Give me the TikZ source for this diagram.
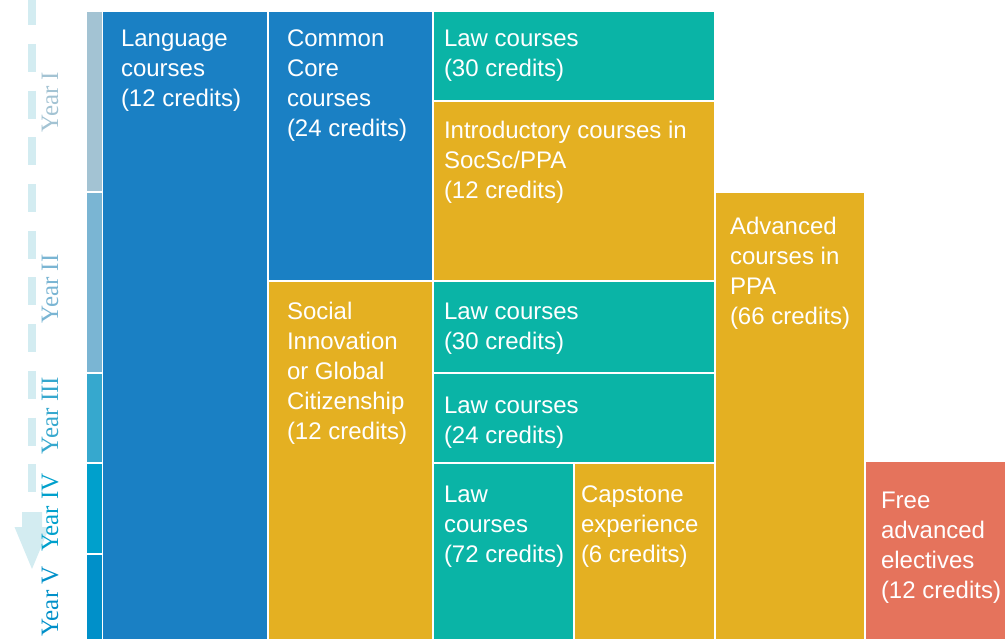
\documentclass[tikz,border=0pt]{standalone}
\usepackage{fontspec}
\setmainfont{Liberation Sans}
\newfontfamily\yearfont{Liberation Serif}
\usetikzlibrary{calc}
\definecolor{cblue}{HTML}{1A80C4}
\definecolor{cteal}{HTML}{0AB4A6}
\definecolor{cgold}{HTML}{E4B022}
\definecolor{ccoral}{HTML}{E5735C}
\definecolor{yI}{HTML}{A3C3D3}
\definecolor{yII}{HTML}{7AB5D3}
\definecolor{yIII}{HTML}{36A8CE}
\definecolor{yIV}{HTML}{00A0CC}
\definecolor{yV}{HTML}{0090C9}
\definecolor{cdash}{HTML}{D3ECF1}
\newcommand{\boxlines}[1]{\begin{tabular}[t]{@{}l@{}}#1\end{tabular}}
\begin{document}
\begin{tikzpicture}[x=1pt,y=-1pt,
  blk/.style n args={2}{anchor=north west, inner sep=0pt, outer sep=0pt, draw=none, minimum width=#1, minimum height=#2},
  lbl/.style={anchor=base west, inner sep=0pt, outer sep=0pt, text=white, font=\fontsize{24pt}{30pt}\selectfont},
  yearlbl/.style={anchor=base, rotate=90, inner sep=0pt, font=\yearfont\fontsize{25pt}{25pt}\selectfont}]
\useasboundingbox (0,0) rectangle (1005,639);
% timeline arrow
\draw[cdash, line width=8pt, dash pattern=on 28pt off 18.7pt, dash phase=2.7pt] (32,0) -- (32,492.3);
\fill[cdash] (22,512) -- (42,512) -- (42,527) -- (49.5,527) -- (32,569) -- (14.5,527) -- (22,527) -- cycle;
% year bars
\node[blk={15pt}{179pt}, fill=yI] (barI) at (87,12) {};
\node[blk={15pt}{179pt}, fill=yII] (barII) at (87,193) {};
\node[blk={15pt}{88pt}, fill=yIII] (barIII) at (87,374) {};
\node[blk={15pt}{89pt}, fill=yIV] (barIV) at (87,464) {};
\node[blk={15pt}{84pt}, fill=yV] (barV) at (87,555) {};
% year labels
\node[yearlbl, text=yI] (labI) at (58,102) {Year I};
\node[yearlbl, text=yII] (labII) at (58,289) {Year II};
\node[yearlbl, text=yIII] (labIII) at (58,415.5) {Year III};
\node[yearlbl, text=yIV] (labIV) at (58,512.5) {Year IV};
\node[yearlbl, text=yV] (labV) at (58,601.5) {Year V};
% boxes
\node[blk={164pt}{627pt}, fill=cblue] (lang) at (103,12) {};
\node[blk={163pt}{268pt}, fill=cblue] (core) at (269,12) {};
\node[blk={280pt}{88pt}, fill=cteal] (lawA) at (434,12) {};
\node[blk={280pt}{178pt}, fill=cgold] (intro) at (434,102) {};
\node[blk={163pt}{357pt}, fill=cgold] (social) at (269,282) {};
\node[blk={280pt}{90pt}, fill=cteal] (lawB) at (434,282) {};
\node[blk={280pt}{88pt}, fill=cteal] (lawC) at (434,374) {};
\node[blk={139pt}{175pt}, fill=cteal] (lawD) at (434,464) {};
\node[blk={139pt}{175pt}, fill=cgold] (cap) at (575,464) {};
\node[blk={148pt}{446pt}, fill=cgold] (adv) at (716,193) {};
\node[blk={139pt}{177pt}, fill=ccoral] (free) at (866,462) {};
% texts
\node[lbl] (langT) at ([shift={(18pt,-34.5pt)}]lang.north west) {\boxlines{Language\\courses\\(12 credits)}};
\node[lbl] (coreT) at ([shift={(18pt,-34.5pt)}]core.north west) {\boxlines{Common\\Core\\courses\\(24 credits)}};
\node[lbl] (lawAT) at ([shift={(10pt,-34.5pt)}]lawA.north west) {\boxlines{Law courses\\(30 credits)}};
\node[lbl] (introT) at ([shift={(10pt,-36.5pt)}]intro.north west) {\boxlines{Introductory courses in\\SocSc/PPA\\(12 credits)}};
\node[lbl] (socialT) at ([shift={(18pt,-37.5pt)}]social.north west) {\boxlines{Social\\Innovation\\or Global\\Citizenship\\(12 credits)}};
\node[lbl] (lawBT) at ([shift={(10pt,-37.5pt)}]lawB.north west) {\boxlines{Law courses\\(30 credits)}};
\node[lbl] (lawCT) at ([shift={(10pt,-39.5pt)}]lawC.north west) {\boxlines{Law courses\\(24 credits)}};
\node[lbl] (lawDT) at ([shift={(10pt,-38.5pt)}]lawD.north west) {\boxlines{Law\\courses\\(72 credits)}};
\node[lbl] (capT) at ([shift={(6pt,-38.5pt)}]cap.north west) {\boxlines{Capstone\\experience\\(6 credits)}};
\node[lbl] (advT) at ([shift={(14pt,-41.5pt)}]adv.north west) {\boxlines{Advanced\\courses in\\PPA\\(66 credits)}};
\node[lbl] (freeT) at ([shift={(15pt,-46.5pt)}]free.north west) {\boxlines{Free\\advanced\\electives\\(12 credits)}};
\end{tikzpicture}
\end{document}
